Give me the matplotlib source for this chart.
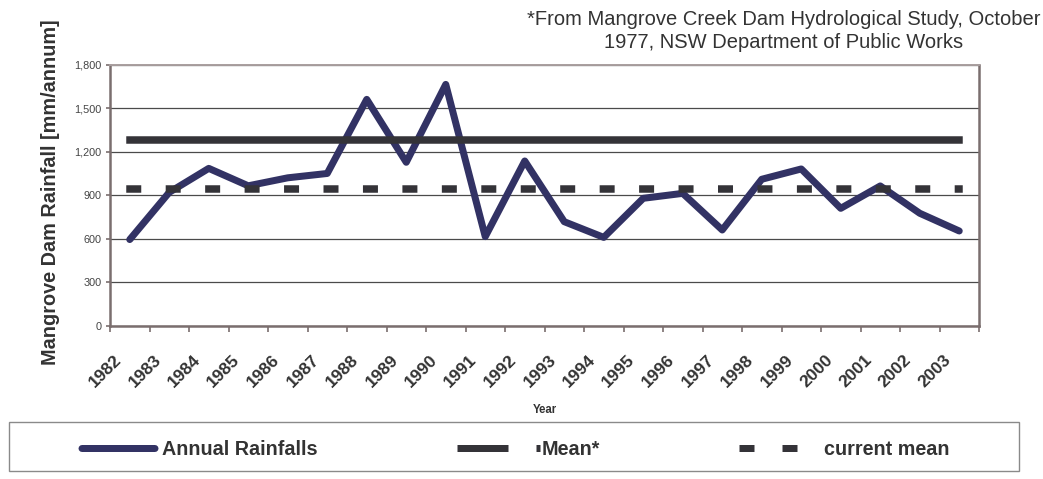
import matplotlib
matplotlib.use("Agg")
import matplotlib.pyplot as plt
from matplotlib.lines import Line2D
from matplotlib.patches import Rectangle
from matplotlib.transforms import ScaledTranslation

plt.rcParams['font.family'] = ['Liberation Sans', 'DejaVu Sans']

# Annual rainfall at Mangrove Creek Dam (mm/annum)
years = ['1982', '1983', '1984', '1985', '1986', '1987', '1988', '1989', '1990',
         '1991', '1992', '1993', '1994', '1995', '1996', '1997', '1998', '1999',
         '2000', '2001', '2002', '2003']
annual_rainfall = [595, 920, 1085, 965, 1020, 1050, 1560, 1127, 1663,
                   615, 1136, 718, 610, 879, 913, 661, 1010, 1081,
                   810, 964, 776, 654]
historic_mean = [1280] * len(years)   # 1977 hydrological study mean
current_mean = [945] * len(years)
yticks = [0, 300, 600, 900, 1200, 1500, 1800]

W, H, DPI = 1043, 479, 100
fig = plt.figure(figsize=(W / DPI, H / DPI), dpi=DPI)
fig.patch.set_facecolor('white')

def px(x, y):
    """figure pixel position (from top-left) -> figure fraction"""
    return x / W, 1 - y / H

left, right, top, bottom = 110, 979, 64.5, 326
ax = fig.add_axes([left / W, 1 - bottom / H, (right - left) / W, (bottom - top) / H])

x = list(range(len(years)))
PT = 0.72  # points per pixel at 100 dpi
navy = '#323264'
dark = '#343338'

ax.plot(x, annual_rainfall, color=navy, lw=7 * PT, solid_capstyle='round',
        solid_joinstyle='round', zorder=3)
ax.plot(x, historic_mean, color=dark, lw=7.5 * PT, solid_capstyle='projecting', zorder=4)
ax.plot(x, current_mean, color=dark, lw=7.5 * PT, dash_capstyle='projecting',
        linestyle=(0, (1.0, 31.95 / 7.5)), zorder=4)

ax.set_xlim(-0.5, len(years) - 0.5)
ax.set_ylim(0, 1800)
ax.set_yticks(yticks)
ax.set_yticklabels([f'{v:,}' for v in yticks], fontsize=7.8, color='#444444')
ax.tick_params(axis='y', length=4.5 * PT, width=1.2, color='#7a6e6e', pad=4 * PT)

ax.set_xticks(x)
ax.set_xticklabels(years, fontsize=12.5, fontweight='bold', color='#333333',
                   rotation=45, ha='right', va='top', rotation_mode='anchor')
ax.set_xticks([i - 0.5 for i in range(len(years) + 1)], minor=True)
ax.tick_params(axis='x', which='major', length=0, pad=26 * PT)
ax.tick_params(axis='x', which='minor', length=6 * PT, width=1.2, color='#7a6e6e')
shift = ScaledTranslation(-16 / DPI, 0, fig.dpi_scale_trans)
for lab in ax.get_xticklabels():
    lab.set_transform(lab.get_transform() + shift)

ax.yaxis.grid(True, color='#4a4a4a', lw=0.9)
ax.set_axisbelow(True)
for side in ['left', 'bottom', 'right']:
    ax.spines[side].set_color('#7a6e6e')
    ax.spines[side].set_linewidth(1.8)
ax.spines['top'].set_color('#a89e9e')
ax.spines['top'].set_linewidth(1.4)

ax.set_xlabel('Year', fontsize=8.3, fontweight='bold', color='#333333', va='center')
ax.xaxis.set_label_coords((545 - left) / (right - left), (bottom - 410) / (bottom - top))

fig.text(*px(51, 192), 'Mangrove Dam Rainfall [mm/annum]', rotation=90,
         fontsize=14.3, fontweight='bold', color='#333333', ha='center', va='center')

fig.text(*px(784, 31), '*From Mangrove Creek Dam Hydrological Study, October\n'
         '1977, NSW Department of Public Works', fontsize=14.5, color='#333333',
         ha='center', va='center', linespacing=1.22)

# legend frame and entries
lx0, ly0, lx1, ly1 = 9, 422, 1019, 471
fig.patches.append(Rectangle(px(lx0, ly1), (lx1 - lx0) / W, (ly1 - ly0) / H,
                             transform=fig.transFigure, fill=False,
                             edgecolor='#8a8a8a', lw=1.0))

fs = 14.2
em = fs / PT
handles = [
    Line2D([], [], color=navy, lw=7 * PT, dash_capstyle='round',
           linestyle=(10.43 + 10 - 0.5, (10.43, 10))),
    Line2D([], [], color=dark, lw=7 * PT, dash_capstyle='butt',
           linestyle=(0, (51 / 7, 28 / 7))),
    Line2D([], [], color=dark, lw=7 * PT, dash_capstyle='butt',
           linestyle=(0, (15 / 7, 28 / 7))),
]
labels = ['Annual Rainfalls', 'Mean*', 'current mean']
fig.legend(handles, labels, loc='center', bbox_to_anchor=px(513.5, 449.5),
           ncol=3, frameon=False, handlelength=83 / em, handletextpad=1.5 / em,
           columnspacing=139.5 / em, borderpad=0, borderaxespad=0,
           prop={'size': fs, 'weight': 'bold'}, labelcolor='#333333')

fig.savefig('out.png', dpi=DPI, facecolor='white')
